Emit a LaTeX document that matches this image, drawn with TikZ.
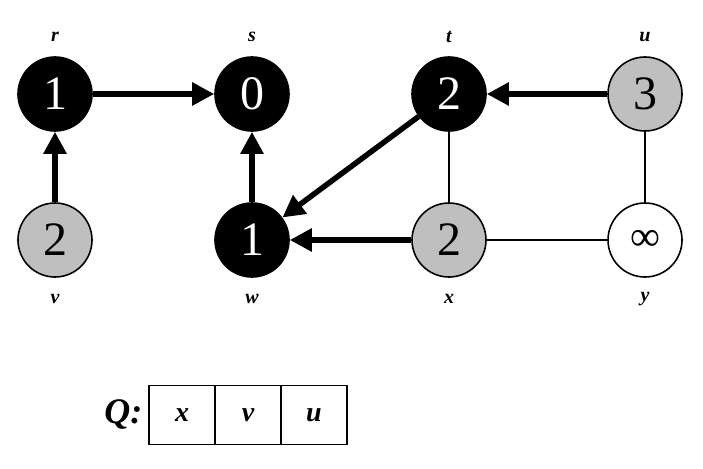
\documentclass[tikz,border=0pt]{standalone}
\usepackage{fontspec}
\setmainfont{Liberation Serif}
\usetikzlibrary{arrows.meta}
\begin{document}
\begin{tikzpicture}[x=1pt,y=-1pt,
  vert/.style={circle,draw=black,line width=1.6pt,minimum size=74pt,inner sep=0pt,font=\fontsize{48}{48}\selectfont},
  blk/.style={vert,fill=black,text=white},
  gry/.style={vert,fill=gray!50},
  wht/.style={vert,fill=white},
  lbl/.style={font=\fontsize{20}{20}\selectfont\bfseries\itshape},
  tree/.style={line width=5.5pt,-{Triangle[length=22pt,width=22pt]}},
  edge/.style={line width=1.6pt},
  cell/.style={draw=black,line width=1.6pt,minimum width=66pt,minimum height=59pt,inner sep=0pt,font=\fontsize{28}{28}\selectfont\bfseries\itshape}]
\useasboundingbox (0,0) rectangle (703,468);
\node[blk] (r) at (55,94) {1};
\node[blk] (s) at (252,94) {0};
\node[blk] (t) at (449,94) {2};
\node[gry] (u) at (645,94) {3};
\node[gry] (v) at (55,240) {2};
\node[blk] (w) at (252,240) {1};
\node[gry] (x) at (449,240) {2};
\node[wht,font=\fontsize{42}{42}\selectfont] (y) at (645,240) {∞};
\node[lbl] (lr) at (55,37) {r};
\node[lbl] (ls) at (252,37) {s};
\node[lbl] (lt) at (449,37) {t};
\node[lbl] (lu) at (645,37) {u};
\node[lbl] (lv) at (55,299) {v};
\node[lbl] (lw) at (252,299) {w};
\node[lbl] (lx) at (449,299) {x};
\node[lbl] (ly) at (645,299) {y};
\draw[edge] (t) -- (x);
\draw[edge] (u) -- (y);
\draw[edge] (x) -- (y);
\draw[tree] (r) -- (s);
\draw[tree] (v) -- (r);
\draw[tree] (w) -- (s);
\draw[tree] (u) -- (t);
\draw[tree] (t) -- (w);
\draw[tree] (x) -- (w);
\node[cell] (q1) at (182,415) {x};
\node[cell] (q2) at (248,415) {v};
\node[cell] (q3) at (314,415) {u};
\node[font=\fontsize{36}{36}\selectfont\bfseries\itshape,anchor=east] (ql) at (146,414) {Q:};
\end{tikzpicture}
\end{document}
